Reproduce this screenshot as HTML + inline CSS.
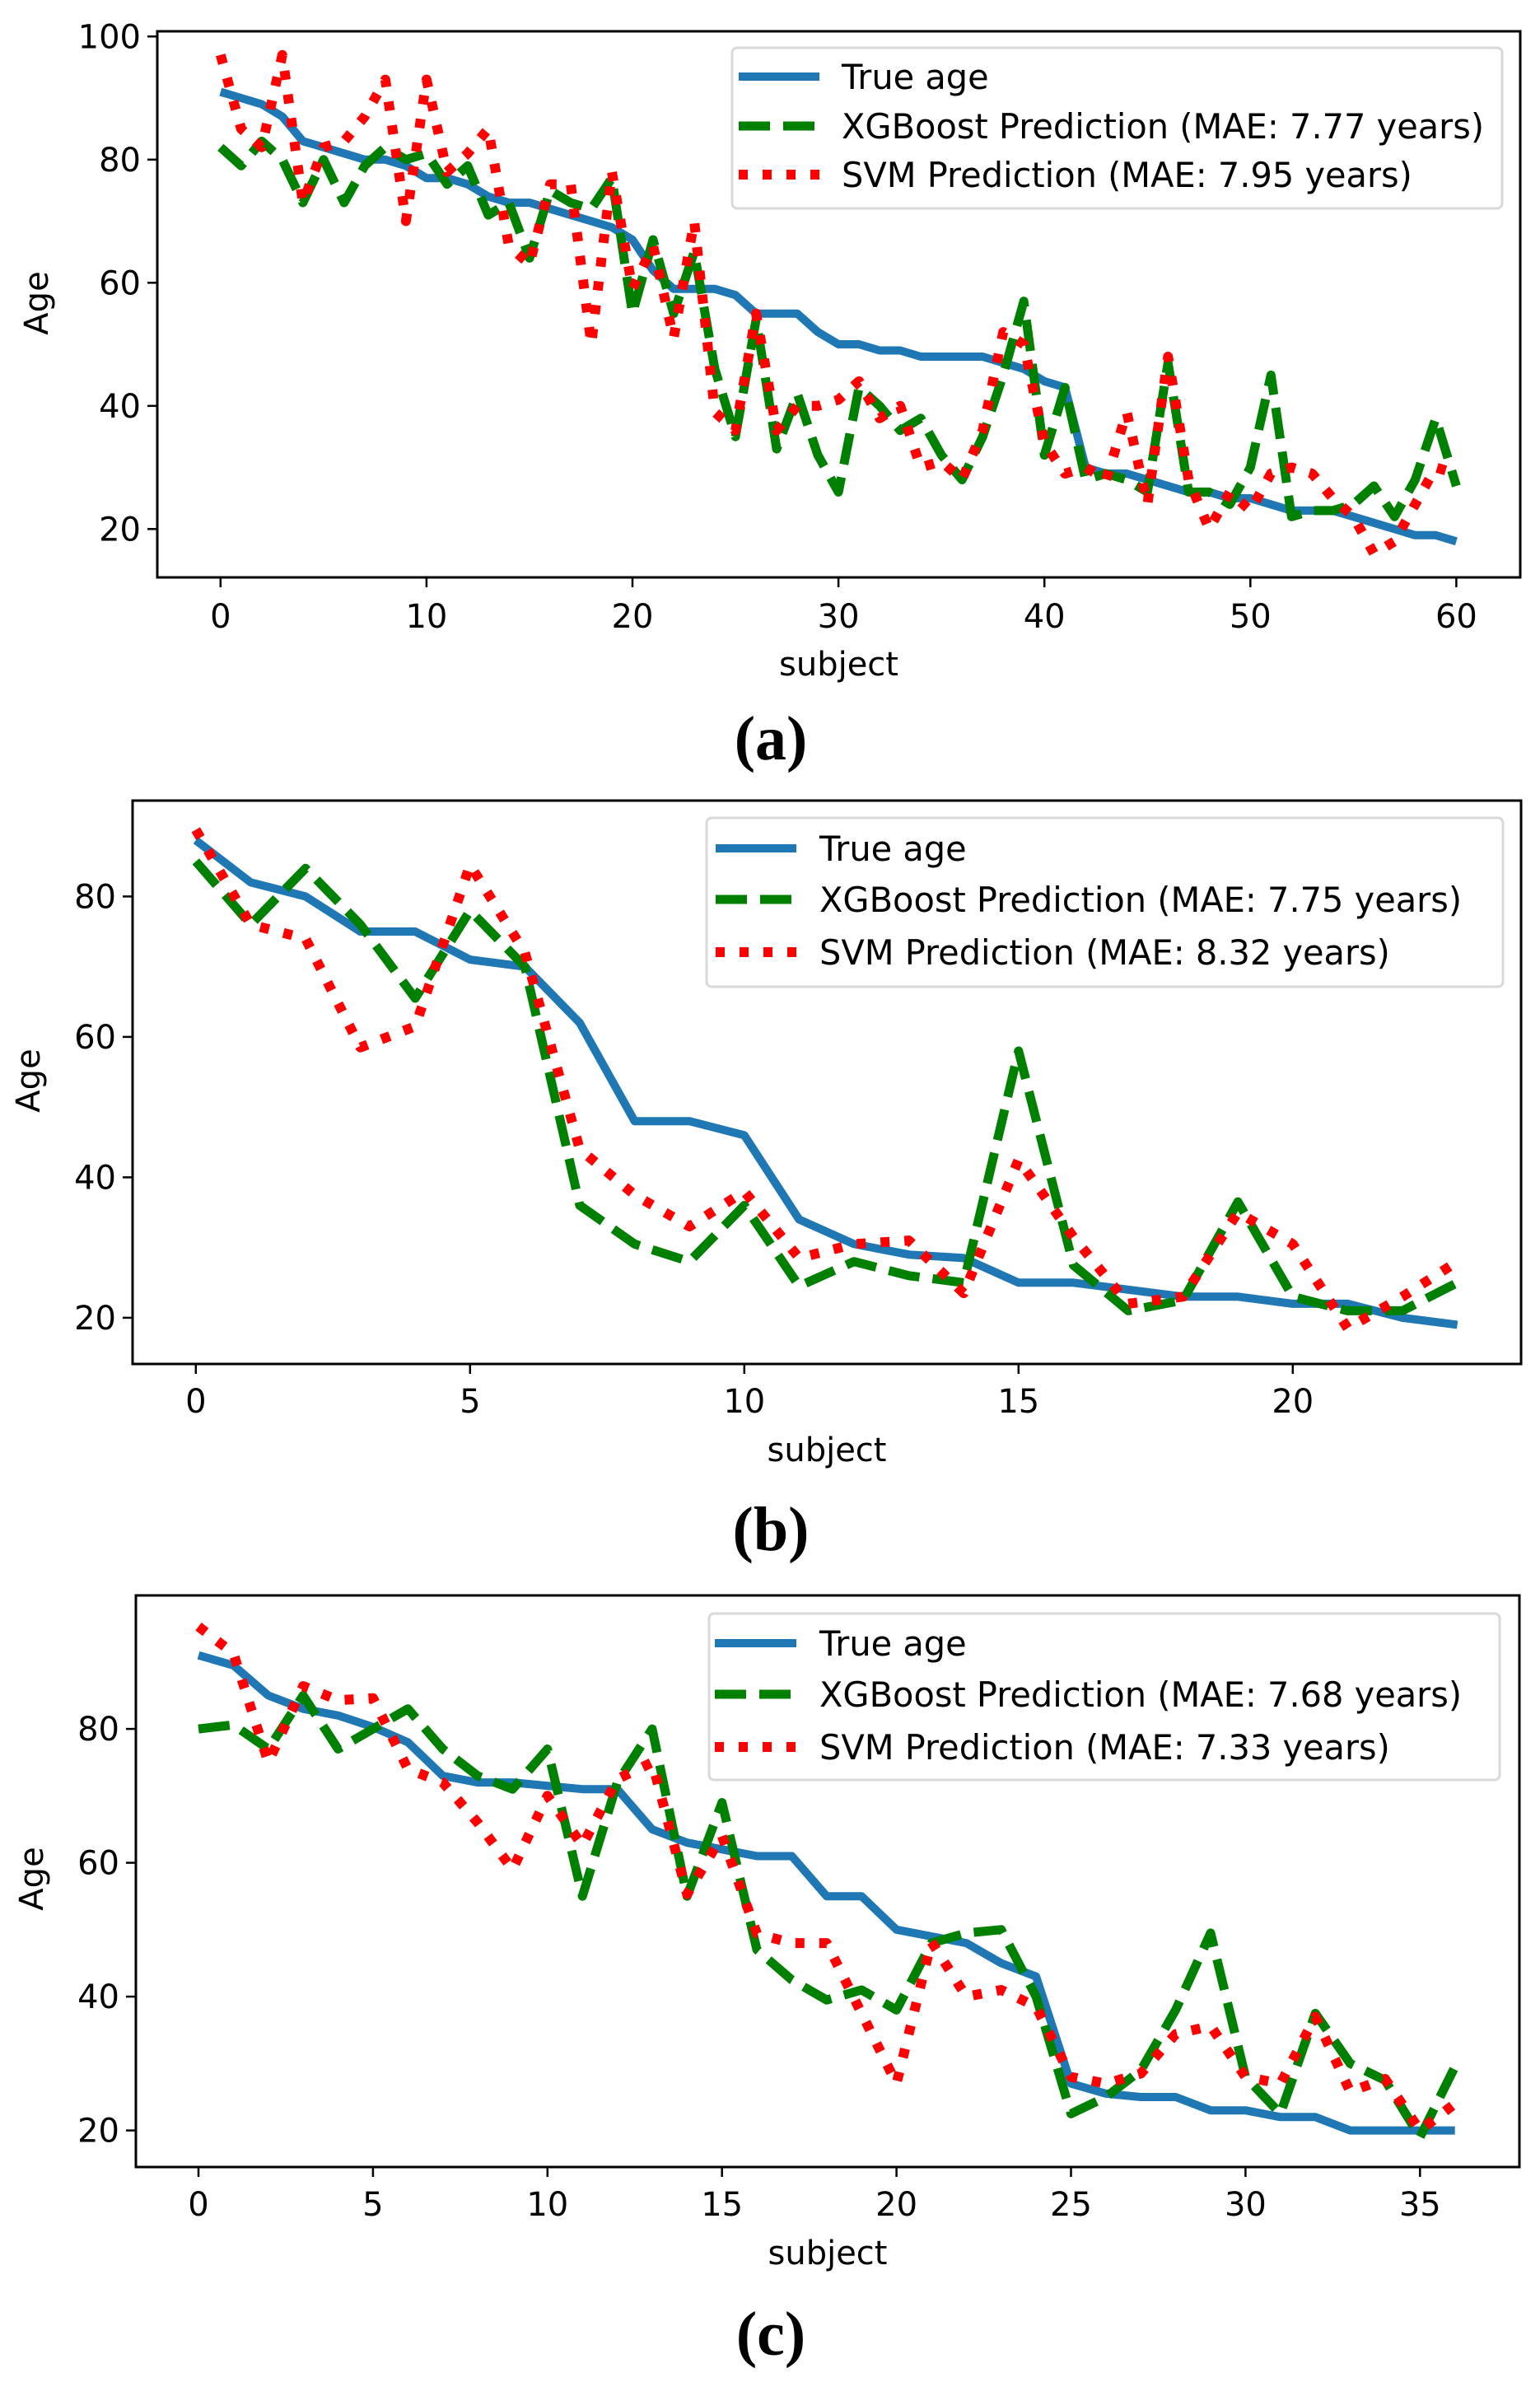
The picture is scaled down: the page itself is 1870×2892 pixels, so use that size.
<!DOCTYPE html>
<html><head><meta charset="utf-8">
<style>
html,body{margin:0;padding:0;background:#fff;}
svg{display:block;}
text{font-family:"DejaVu Sans","Liberation Sans",sans-serif;fill:#000;}
.cap{font-family:"Liberation Serif",serif;font-size:76px;font-weight:bold;}
</style></head>
<body>
<svg id="fig" width="1870" height="2892" viewBox="0 0 1870 2892" xmlns="http://www.w3.org/2000/svg"></svg>
<script>
// ---- Chart (a) data ----
const aTrue=[91,90,89,87,83,82,81,80,80,79,77,77,76,74,73,73,72,71,70,69,67,62,59,59,59,58,55,55,55,52,50,50,49,49,48,48,48,48,47,46,44,43,30,29,29,28,27,26,26,25,25,24,23,23,23,22,21,20,19,19,18];
const aXgb=[82,79,83,80,73,80,73,79,82,80,81,76,79,71,73,64,75,73,72,77,55,67,55,65,46,35,54,33,42,32,26,43,40,36,38,32,28,35,45,57,32,43,28,29,28,26,47,26,26,24,30,45,22,23,23,24,27,22,28,38,27];
const aSvm=[97,85,82,97,73,82,83,87,93,70,93,78,81,85,66,63,76,76,50,78,59,66,51,70,39,36,55,36,40,40,41,44,38,40,30,31,28,36,52,50,34,29,30,28,39,24,48,28,20,26,23,29,30,29,25,22,16,18,24,30,29];
const aXTicks=[0,10,20,30,40,50,60];
const aYTicks=[20,40,60,80,100];
const aLegend=["True age","XGBoost Prediction (MAE: 7.77 years)","SVM Prediction (MAE: 7.95 years)"];
// ---- Chart (b) data ----
const bTrue=[88,82,80,75,75,71,70,62,48,48,46,34,30.5,29,28.5,25,25,24,23,23,22,22,20,19];
const bXgb=[85,76,84,76,65.5,78,70,36,30.5,28,36,24.5,28,26,25,58,27.5,21,22.5,36.5,23,21,21,25];
const bSvm=[89.5,76,74,58.5,61.5,84.5,72,44,37.5,33,38,28.5,30.5,31,23.5,42.5,31.5,22,23,35,30.5,18.5,23,28];
const bXTicks=[0,5,10,15,20];
const bYTicks=[20,40,60,80];
const bLegend=["True age","XGBoost Prediction (MAE: 7.75 years)","SVM Prediction (MAE: 8.32 years)"];
// ---- Chart (c) data ----
const cTrue=[91,89.5,85,83,82,80.3,78,73,72,72,71.5,71,71,65,63,62,61,61,55,55,50,49,48,45,43,27,25.5,25,25,23,23,22,22,20,20,20,20];
const cXgb=[80,80.6,77,85,77,80,83,77,73,71,77,55,72,80,55,69,47,42.5,39.5,41,38,48,49.5,50,40,22.5,25,29,38,49.5,28,22.5,37.5,30,27.5,19,29.5];
const cSvm=[95.3,91.3,75,86.4,84.3,84.6,74,72,66,59,70,62.6,72.5,75,55.3,64,49.4,48,48,37.5,27,48.2,40,41,38.5,28,27,28.5,34.4,35.6,28,27,37,25.8,27.7,20,24];
const cXTicks=[0,5,10,15,20,25,30,35];
const cYTicks=[20,40,60,80];
const cLegend=["True age","XGBoost Prediction (MAE: 7.68 years)","SVM Prediction (MAE: 7.33 years)"];

const NS="http://www.w3.org/2000/svg";
const svg=document.getElementById('fig');
function mk(tag,attrs,parent){const e=document.createElementNS(NS,tag);for(const k in attrs)e.setAttribute(k,attrs[k]);(parent||svg).appendChild(e);return e;}

function drawChart(id,cfg,trueV,xgbV,svmV,xTicks,yTicks,legend){
  const g=mk('g',{});
  
  
  const sx=v=>cfg.x0+(v-cfg.xv0)*cfg.xs;
  const sy=v=>cfg.y0-(v-cfg.yv0)*cfg.ys;
  const clip=mk('clipPath',{id:'clip-'+id},g);
  mk('rect',{x:cfg.L,y:cfg.T,width:cfg.R-cfg.L,height:cfg.B-cfg.T},clip);
  const series=[
    {v:trueV,c:'#1f77b4',w:10,d:'',n:'true-age-line'},
    {v:xgbV,c:'#008000',w:11,d:'38 16',n:'xgboost-line'},
    {v:svmV,c:'#ff0000',w:12,d:'11 18',n:'svm-line'}];
  series.forEach(s=>{
    const pts=s.v.map((v,i)=>sx(i).toFixed(1)+','+sy(v).toFixed(1)).join(' ');
    const pl=mk('polyline',{points:pts,fill:'none',stroke:s.c,'stroke-width':s.w,'stroke-linejoin':'round','stroke-dasharray':s.d,'clip-path':'url(#clip-'+id+')'},g);
    
    
  });
  const fr=mk('rect',{x:cfg.L,y:cfg.T,width:cfg.R-cfg.L,height:cfg.B-cfg.T,fill:'none',stroke:'#000','stroke-width':3},g);
  
  
  xTicks.forEach(t=>{
    const x=sx(t);
    mk('line',{x1:x,x2:x,y1:cfg.B,y2:cfg.B+12,stroke:'#000','stroke-width':2.5},g);
    const tx=mk('text',{x:x,y:cfg.xly,'text-anchor':'middle','font-size':40},g);
    tx.textContent=t;
    
    
  });
  yTicks.forEach(t=>{
    const y=sy(t);
    mk('line',{x1:cfg.L-12,x2:cfg.L,y1:y,y2:y,stroke:'#000','stroke-width':2.5},g);
    const tx=mk('text',{x:cfg.L-20,y:y+14,'text-anchor':'end','font-size':40},g);
    tx.textContent=t;
    
    
  });
  const xl=mk('text',{x:(cfg.L+cfg.R)/2,y:cfg.xty,'text-anchor':'middle','font-size':40},g);
  xl.textContent='subject';
  
  
  const yl=mk('text',{x:0,y:0,'text-anchor':'middle','font-size':40,transform:'translate('+cfg.yax+','+cfg.yay+') rotate(-90)'},g);
  yl.textContent='Age';
  
  
  const lg=mk('g',{},g);
  
  
  mk('rect',{x:cfg.lx,y:cfg.ly,width:cfg.lw,height:cfg.lh,rx:6,fill:'#fff','fill-opacity':0.8,stroke:'#d9d9d9','stroke-width':3},lg);
  series.forEach((s,i)=>{
    const y=cfg.rows[i];
    const ln=mk('line',{x1:cfg.hx1,x2:cfg.hx2,y1:y,y2:y,stroke:s.c,'stroke-width':s.w,'stroke-dasharray':s.d},lg);
    
    
    const tx=mk('text',{x:cfg.tx,y:y+15,'font-size':41.5},lg);
    tx.textContent=legend[i];
    
    
  });
  const cp=mk('text',{x:cfg.capx,y:cfg.capy,'text-anchor':'middle','class':'cap'},svg);
  cp.textContent='('+id+')';
  
  
}

drawChart('a',{L:191,R:1846,T:38,B:701,x0:267.8,xv0:0,xs:25.01,y0:642.3,yv0:20,ys:7.475,
  xly:762,xty:820,yax:58,yay:368,lx:889,ly:58,lw:935,lh:195,rows:[93,153,212],hx1:897,hx2:995,tx:1022,capx:936,capy:922},
  aTrue,aXgb,aSvm,aXTicks,aYTicks,aLegend);
drawChart('b',{L:161,R:1847,T:972,B:1656,x0:237.8,xv0:0,xs:66.6,y0:1599.9,yv0:20,ys:8.525,
  xly:1715,xty:1774,yax:48,yay:1312,lx:858,ly:993,lw:967,lh:205,rows:[1030,1092,1156],hx1:869,hx2:967,tx:995,capx:936,capy:1882},
  bTrue,bXgb,bSvm,bXTicks,bYTicks,bLegend);
drawChart('c',{L:165,R:1845,T:1937,B:2631,x0:241,xv0:0,xs:42.38,y0:2586.6,yv0:20,ys:8.125,
  xly:2690,xty:2749,yax:52,yay:2281,lx:861,ly:1959,lw:960,lh:202,rows:[1995,2057,2121],hx1:868,hx2:967,tx:995,capx:936,capy:2859},
  cTrue,cXgb,cSvm,cXTicks,cYTicks,cLegend);
</script>
</body></html>
